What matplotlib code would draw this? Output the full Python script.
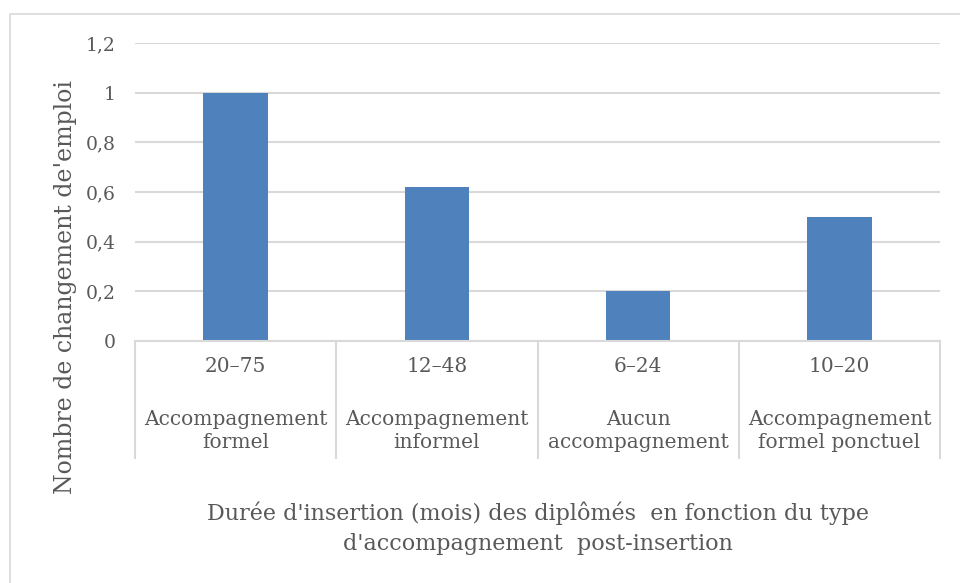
import numpy as np
import matplotlib
matplotlib.use('Agg')
import matplotlib.pyplot as plt
from matplotlib.patches import Rectangle

# data
durees = ['20\u201375', '12\u201348', '6\u201324', '10\u201320']
types = ['Accompagnement\nformel', 'Accompagnement\ninformel', 'Aucun\naccompagnement', 'Accompagnement\nformel ponctuel']
valeurs = [1.0, 0.62, 0.2, 0.5]
yticks = [0, 0.2, 0.4, 0.6, 0.8, 1.0, 1.2]
ytick_labels = ['0', '0,2', '0,4', '0,6', '0,8', '1', '1,2']

txt = '#595959'
grid = '#d9d9d9'
plt.rcParams['font.family'] = ['DejaVu Serif']

W, H = 960, 583
fig = plt.figure(figsize=(W / 100, H / 100), dpi=100)
fig.patch.set_facecolor('white')

# outer chart border
fig.add_artist(Rectangle((10 / W, -0.01), 1.02, 1 - 14 / H + 0.01, transform=fig.transFigure,
                         fill=False, edgecolor=grid, lw=1.2))

left, right, top, bottom = 135 / W, 940 / W, 1 - 43 / H, 1 - 341 / H
ax = fig.add_axes([left, bottom, right - left, top - bottom])

x = np.arange(len(valeurs))
ax.bar(x, valeurs, width=0.32, color='#4f81bd', zorder=3)
ax.set_xlim(-0.5, len(valeurs) - 0.5)
ax.set_ylim(0, 1.2)
ax.set_yticks(yticks)
ax.set_yticklabels(ytick_labels, fontsize=13.5, color=txt)
ax.tick_params(axis='y', length=0, pad=14)
ax.set_xticks([])
ax.grid(axis='y', color=grid, lw=1.5, zorder=0)
for s in ax.spines.values():
    s.set_visible(False)

# category boxes below the axis
px = (right - left) * W  # axes width in px
ph = (top - bottom) * H
trans = ax.get_xaxis_transform()
ax.plot([-0.5, len(valeurs) - 0.5], [0, 0], color=grid, lw=1.5, transform=trans, clip_on=False, zorder=4)
for b in np.arange(-0.5, len(valeurs)):
    ax.plot([b, b], [0, -(458 - 341) / ph], color=grid, lw=1.5, transform=trans, clip_on=False)
for i in x:
    ax.text(i, -(367 - 341) / ph, durees[i], transform=trans, ha='center', va='center',
            fontsize=14.5, color=txt)
    ax.text(i, -(431 - 341) / ph, types[i], transform=trans, ha='center', va='center',
            fontsize=14.5, color=txt, linespacing=1.32)

ax.set_ylabel("Nombre de changement de'emploi", fontsize=17, color=txt)
ax.yaxis.set_label_coords((77 - 135) / px, (341 - 287) / ph)

fig.text(538 / W, 1 - 528 / H, "Durée d'insertion (mois) des diplômés  en fonction du type\nd'accompagnement  post-insertion",
         ha='center', va='center', fontsize=16, color=txt, linespacing=1.45)

fig.savefig('out.png', dpi=100)
